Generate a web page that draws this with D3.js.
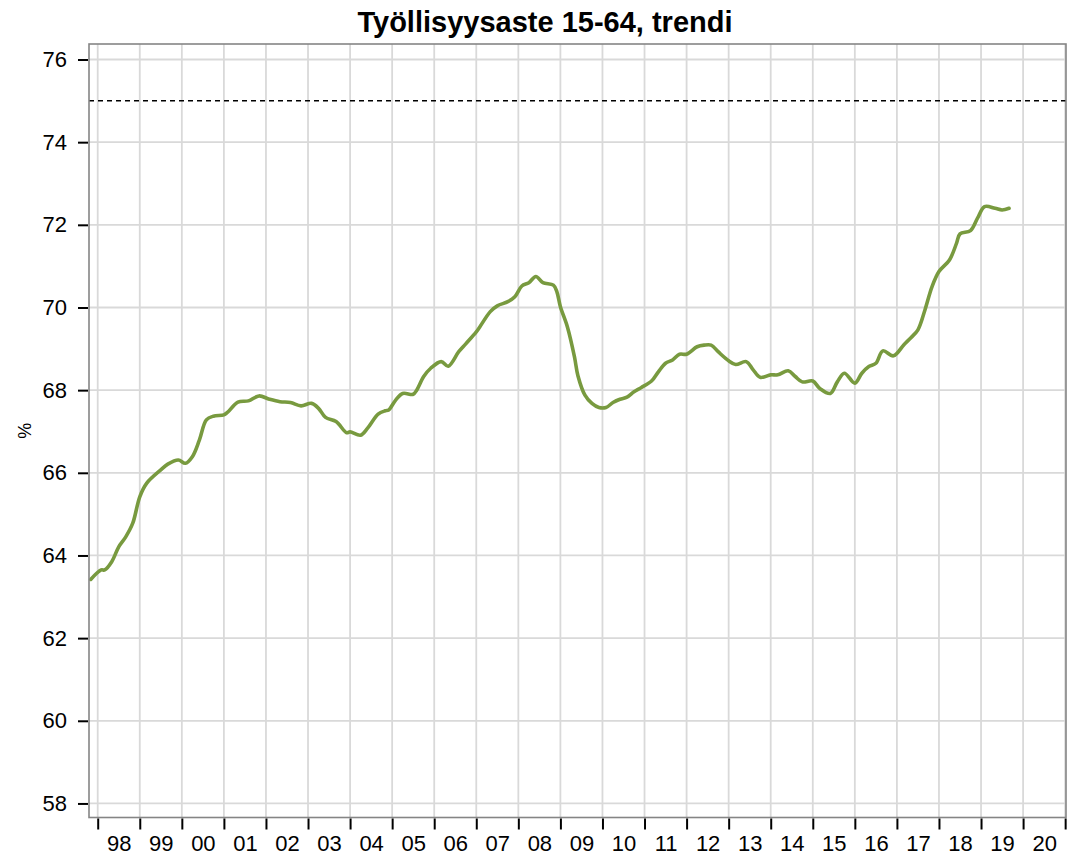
<!DOCTYPE html>
<html>
<head>
<meta charset="utf-8">
<script src="https://cdn.jsdelivr.net/npm/d3@7"></script>
<style>
  html, body { margin: 0; padding: 0; background: #fff; }
  svg { display: block; }
</style>
</head>
<body>
<svg id="chart" width="1076" height="858"></svg>
<script>
// ---- data ----
const title = "Työllisyysaste 15-64, trendi";
const yLabel = "%";
const months = [
  "1997-11","1998-02","1998-03","1998-05","1998-07","1998-09","1998-11",
  "1999-01","1999-03","1999-07","1999-09","1999-12",
  "2000-02","2000-04","2000-06","2000-08","2000-10",
  "2001-01","2001-02","2001-05","2001-08","2001-11",
  "2002-02","2002-05","2002-08","2002-11",
  "2003-02","2003-04","2003-06","2003-09","2003-12",
  "2004-01","2004-04","2004-06","2004-09","2004-11","2004-12",
  "2005-02","2005-04","2005-07","2005-08","2005-10","2005-12",
  "2006-03","2006-05","2006-08","2006-10",
  "2007-01","2007-02","2007-05","2007-07","2007-10","2007-12",
  "2008-02","2008-04","2008-06","2008-08","2008-11","2008-12",
  "2009-01","2009-03","2009-05","2009-06","2009-08","2009-10","2009-12",
  "2010-02","2010-04","2010-06","2010-08","2010-10","2010-12",
  "2011-03","2011-05","2011-07","2011-09","2011-11",
  "2012-01","2012-04","2012-06","2012-08","2012-10",
  "2013-01","2013-03","2013-06","2013-08","2013-10",
  "2014-01","2014-03","2014-06","2014-08","2014-10",
  "2015-01","2015-03","2015-06","2015-08","2015-10",
  "2016-01","2016-03","2016-05","2016-07","2016-09","2016-12",
  "2017-03","2017-05","2017-07","2017-09","2017-11",
  "2018-01","2018-04","2018-06","2018-07","2018-10","2018-12",
  "2019-02","2019-05","2019-07","2019-09"
];
const rate = [
  63.42,63.65,63.65,63.85,64.21,64.45,64.78,
  65.42,65.75,66.07,66.21,66.31,
  66.23,66.39,66.79,67.28,67.37,
  67.40,67.46,67.71,67.74,67.86,
  67.78,67.72,67.70,67.62,
  67.68,67.56,67.34,67.24,66.97,
  66.99,66.91,67.08,67.42,67.50,67.52,
  67.76,67.92,67.90,68.00,68.33,68.53,
  68.69,68.58,68.93,69.12,
  69.41,69.53,69.90,70.04,70.14,70.26,
  70.52,70.60,70.75,70.60,70.54,70.38,
  70.02,69.53,68.81,68.35,67.88,67.68,67.58,
  67.58,67.70,67.78,67.83,67.96,68.06,
  68.22,68.45,68.65,68.73,68.87,
  68.87,69.05,69.09,69.09,68.93,
  68.71,68.62,68.69,68.49,68.31,
  68.37,68.37,68.47,68.33,68.20,
  68.22,68.04,67.92,68.20,68.41,
  68.17,68.41,68.57,68.65,68.95,68.83,
  69.10,69.27,69.46,69.94,70.50,
  70.87,71.15,71.55,71.78,71.86,72.16,
  72.44,72.40,72.36,72.40
];
const targetLevel = 75;
const yTicks = [58,60,62,64,66,68,70,72,74,76];
const yearTicks = d3.range(1998, 2022);          // year boundaries 1998..2021
const yearLabels = d3.range(1998, 2021);         // labelled years 98..20

// ---- layout ----
const plot = { left: 89, right: 1066, top: 44, bottom: 817.5 };
const svg = d3.select("#chart");
const font = "'Liberation Sans', Arial, Helvetica, sans-serif";

const toYear = s => { const [y, m] = s.split("-").map(Number); return y + (m - 1) / 12; };
const data = months.map((m, i) => ({ t: toYear(m), v: rate[i] }));

const x = d3.scaleLinear().domain([1997.793, 2021.02]).range([plot.left, plot.right]);
const y = d3.scaleLinear().domain([57.66, 76.375]).range([plot.bottom, plot.top]);

// grid
const grid = svg.append("g");
grid.selectAll("line.v").data(yearTicks).join("line")
  .attr("x1", d => x(d)).attr("x2", d => x(d))
  .attr("y1", plot.top).attr("y2", plot.bottom)
  .attr("stroke", "#d9d9d9").attr("stroke-width", 1.8);
grid.selectAll("line.h").data(yTicks).join("line")
  .attr("x1", plot.left).attr("x2", plot.right)
  .attr("y1", d => y(d)).attr("y2", d => y(d))
  .attr("stroke", "#d9d9d9").attr("stroke-width", 1.8);

// target dashed line
svg.append("line")
  .attr("x1", plot.left).attr("x2", plot.right)
  .attr("y1", y(targetLevel)).attr("y2", y(targetLevel))
  .attr("stroke", "#000").attr("stroke-width", 1.5)
  .attr("stroke-dasharray", "5,4");

// series line
const line = d3.line().x(d => x(d.t)).y(d => y(d.v)).curve(d3.curveCatmullRom.alpha(0.5));
svg.append("path").datum(data)
  .attr("d", line)
  .attr("fill", "none")
  .attr("stroke", "#789a3f")
  .attr("stroke-width", 3.6)
  .attr("stroke-linejoin", "round")
  .attr("stroke-linecap", "round");

// frame
svg.append("rect")
  .attr("x", plot.left).attr("y", plot.top)
  .attr("width", plot.right - plot.left).attr("height", plot.bottom - plot.top)
  .attr("fill", "none").attr("stroke", "#858585").attr("stroke-width", 1.6);

// y axis
const yAxis = svg.append("g")
  .attr("transform", `translate(${plot.left - 1},0)`)
  .call(d3.axisLeft(y).tickValues(yTicks).tickSize(10).tickPadding(11).tickFormat(d3.format("d")));
yAxis.select(".domain").remove();
yAxis.selectAll(".tick line").attr("stroke", "#000").attr("stroke-width", 2);
yAxis.selectAll("text").attr("font-family", font).attr("font-size", 22).attr("fill", "#000");

// x axis ticks at year boundaries
const xAxis = svg.append("g")
  .attr("transform", `translate(0,${plot.bottom + 1})`)
  .call(d3.axisBottom(x).tickValues(yearTicks).tickSize(11).tickFormat(""));
xAxis.select(".domain").remove();
xAxis.selectAll(".tick line").attr("stroke", "#000").attr("stroke-width", 2);

// x labels at mid-year
const xLab = svg.append("g")
  .attr("transform", `translate(0,${plot.bottom + 1})`)
  .call(d3.axisBottom(x).tickValues(yearLabels.map(d => d + 0.5)).tickSize(0).tickPadding(17)
    .tickFormat(d => String(Math.floor(d) % 100).padStart(2, "0")));
xLab.select(".domain").remove();
xLab.selectAll("text").attr("font-family", font).attr("font-size", 22).attr("fill", "#000");

// title
svg.append("text")
  .attr("x", 545).attr("y", 32)
  .attr("text-anchor", "middle")
  .attr("font-family", font).attr("font-size", 29).attr("font-weight", "bold")
  .text(title);

// y label
svg.append("text")
  .attr("transform", `translate(31,${(plot.top + plot.bottom) / 2}) rotate(-90)`)
  .attr("text-anchor", "middle")
  .attr("font-family", font).attr("font-size", 18)
  .text(yLabel);
</script>
</body>
</html>
